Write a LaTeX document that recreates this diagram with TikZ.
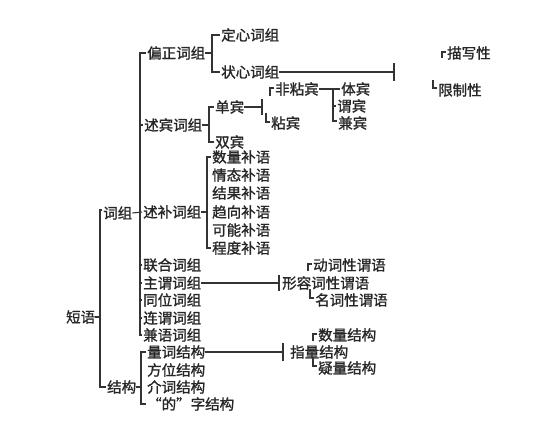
\documentclass[tikz,border=0pt]{standalone}
\usepackage{fontspec}
\newfontfamily\cjk[FakeBold=1.3]{Noto Sans CJK SC}
\usetikzlibrary{calc}
\tikzset{
  lbl/.style={font=\cjk\fontsize{14.5}{14.5}\selectfont, inner sep=0pt, anchor=west, text=black!85},
  ln/.style={draw=black!80, line width=1.1pt},
}
\begin{document}
\begin{tikzpicture}[x=1pt,y=1pt]
\useasboundingbox[fill=white] (0,0) rectangle (546,-442);
% nodes
\node[lbl] (duanyu) at (66,-317) {短语};
\node[lbl] (cizu) at (103,-213) {词组};
\node[lbl] (jiegou) at (107,-387) {结构};
\node[lbl] (pz) at (147,-53) {偏正词组};
\node[lbl] (dx) at (221,-35) {定心词组};
\node[lbl] (zx) at (221,-72) {状心词组};
\node[lbl] (mx) at (447,-53) {描写性};
\node[lbl] (xz) at (438,-90) {限制性};
\node[lbl] (sb) at (144,-125) {述宾词组};
\node[lbl] (danb) at (215,-107) {单宾};
\node[lbl] (shb) at (215,-142) {双宾};
\node[lbl] (fzb) at (275,-89) {非粘宾};
\node[lbl] (zb) at (271,-123) {粘宾};
\node[lbl] (tb) at (341,-89) {体宾};
\node[lbl] (wb) at (337,-106) {谓宾};
\node[lbl] (jb) at (338,-123) {兼宾};
\node[lbl] (sbc) at (143,-212) {述补词组};
\node[lbl] (bu1) at (212,-157) {数量补语};
\node[lbl] (bu2) at (212,-175) {情态补语};
\node[lbl] (bu3) at (212,-193) {结果补语};
\node[lbl] (bu4) at (212,-212) {趋向补语};
\node[lbl] (bu5) at (212,-230) {可能补语};
\node[lbl] (bu6) at (212,-248) {程度补语};
\node[lbl] (lh) at (143,-265) {联合词组};
\node[lbl] (zw) at (143,-283) {主谓词组};
\node[lbl] (tw) at (143,-300) {同位词组};
\node[lbl] (lw) at (143,-318) {连谓词组};
\node[lbl] (jy) at (143,-335) {兼语词组};
\node[lbl] (dc) at (313,-265) {动词性谓语};
\node[lbl] (xr) at (282,-283) {形容词性谓语};
\node[lbl] (mc) at (315,-300) {名词性谓语};
\node[lbl] (lc) at (147,-352) {量词结构};
\node[lbl] (fw) at (147,-370) {方位结构};
\node[lbl] (jc) at (147,-387) {介词结构};
\node[lbl] (de) at (147,-404) {“的”字结构};
\node[lbl] (sl) at (318,-335) {数量结构};
\node[lbl] (zl) at (290,-352) {指量结构};
\node[lbl] (yl) at (318,-368) {疑量结构};
% spines
\coordinate (s0) at (100,0);
\coordinate (s1) at (140,0);
\coordinate (s2) at (212,0);
\coordinate (s3) at (209,0);
\coordinate (s4) at (207,0);
\coordinate (s5) at (333,0);
\coordinate (s6) at (141,0);
% 短语
\draw[ln] ([xshift=-1pt,yshift=3pt]cizu.west) -| (s0 |- jiegou.west) -- ([xshift=-1pt]jiegou.west);
\draw[ln] (duanyu.east) -- (s0 |- duanyu.east);
% 词组
\draw[ln] ([xshift=-1pt]pz.west) -| (s1 |- jy.west) -- ([xshift=-1pt]jy.west);
\foreach \n in {sb,lh,zw,tw,lw} \draw[ln] (s1 |- \n.west) -- ([xshift=-1pt]\n.west);
\draw[ln] (cizu.east) -- ([xshift=-1pt]sbc.west);
% 偏正
\draw[ln] ([xshift=-1pt]dx.west) -| (s2 |- zx.west) -- ([xshift=-1pt]zx.west);
\draw[ln] (pz.east) -- (s2 |- pz.east);
\coordinate (t1) at (394,-72);
\draw[ln] (zx.east) -- (t1);
\draw[ln] ($(t1)+(0,9)$) -- ($(t1)+(0,-9)$);
\draw[ln] ([xshift=-1pt,yshift=1pt]mx.west) -- ++(-4,0) -- ++(0,-6);
\draw[ln] ([xshift=-1pt,yshift=2pt]xz.west) -- ++(-4,0) -- ++(0,8);
% 述宾
\draw[ln] ([xshift=-1pt]danb.west) -| (s3 |- shb.west) -- ([xshift=-1pt]shb.west);
\draw[ln] (sb.east) -- (s3 |- sb.east);
\coordinate (t2) at (262,-107);
\draw[ln] (danb.east) -- (t2);
\draw[ln] ($(t2)+(0,8)$) -- ($(t2)+(0,-8)$);
\draw[ln] ([xshift=-1pt,yshift=1pt]fzb.west) -- ++(-4,0) -- ++(0,-8);
\draw[ln] ([xshift=-1pt,yshift=1pt]zb.west) -- ++(-4,0) -- ++(0,9);
\draw[ln] (fzb.east) -- ([xshift=-1pt]tb.west);
\draw[ln] (s5 |- fzb.east) |- ([xshift=-1pt,yshift=2pt]jb.west);
\draw[ln] (s5 |- wb.west) -- ([xshift=-1pt]wb.west);
% 述补
\draw[ln] ([xshift=-1pt]bu1.west) -| (s4 |- bu6.west) -- ([xshift=-1pt]bu6.west);
\draw[ln] (sbc.east) -- (s4 |- sbc.east);
% 主谓
\coordinate (t3) at (279,-283);
\draw[ln] (zw.east) -- (t3);
\draw[ln] ($(t3)+(0,8)$) -- ($(t3)+(0,-8)$);
\draw[ln] ([xshift=-1pt,yshift=1pt]dc.west) -- ++(-4,0) -- ++(0,-7);
\draw[ln] ([xshift=-1pt,yshift=2pt]mc.west) -- ++(-4,0) -- ++(0,9);
% 结构
\draw[ln] ([xshift=-1pt]lc.west) -| (s6 |- de.west) -- ([xshift=-1pt]de.west);
\draw[ln] (jiegou.east) -- (s6 |- jiegou.east);
\coordinate (t4) at (283,-352);
\draw[ln] (lc.east) -- (t4);
\draw[ln] ($(t4)+(0,9)$) -- ($(t4)+(0,-9)$);
\draw[ln] ([xshift=-1pt,yshift=1pt]sl.west) -- ++(-4,0) -- ++(0,-7);
\draw[ln] ([xshift=-1pt,yshift=2pt]yl.west) -- ++(-4,0) -- ++(0,9);
\end{tikzpicture}
\end{document}
